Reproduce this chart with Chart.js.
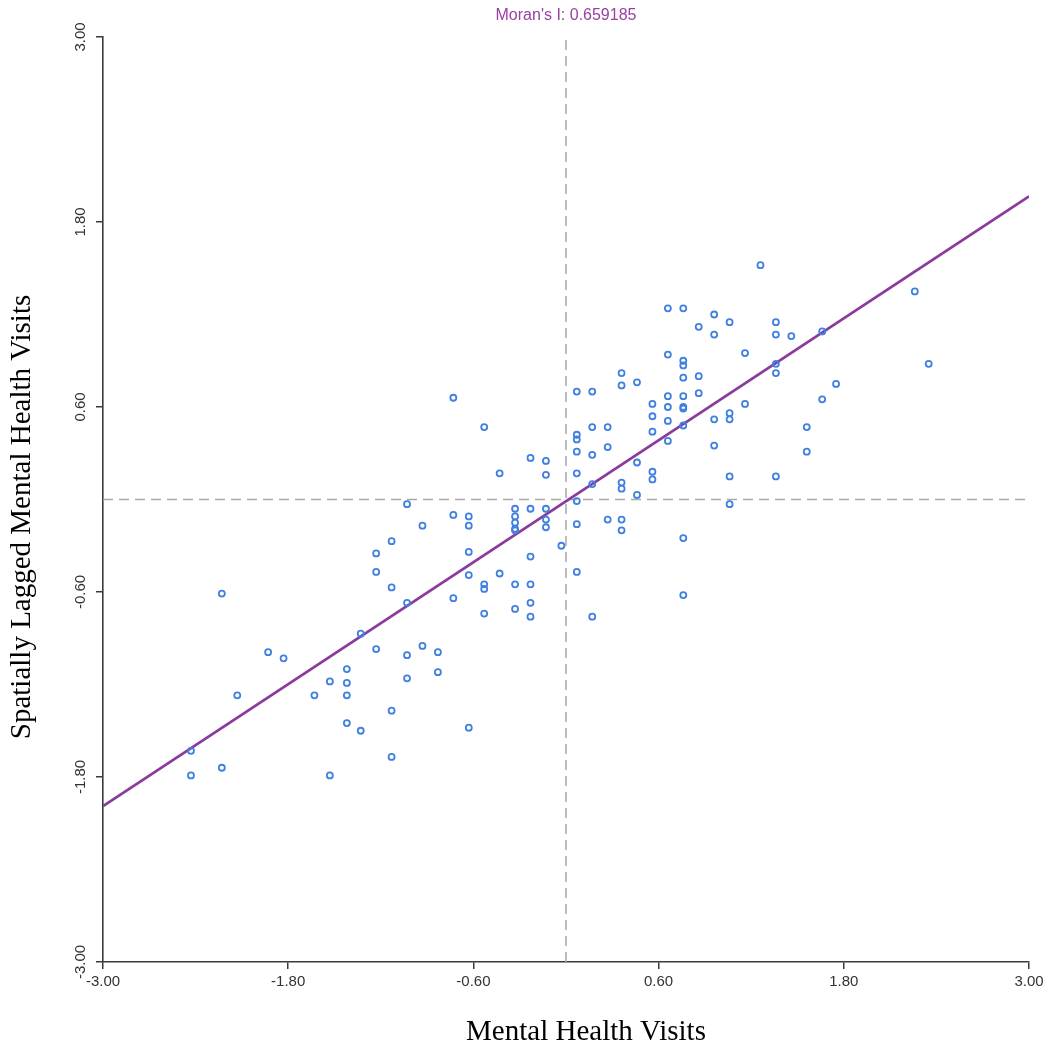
<!DOCTYPE html>
<html>
<head>
<meta charset="utf-8">
<title>Moran's I</title>
<script src="https://cdn.jsdelivr.net/npm/chart.js@4.4.1/dist/chart.umd.min.js"></script>
<style>
    html, body { margin: 0; padding: 0; background: #fff; }
    #grafico { display: block; }
</style>
</head>
<body>
<canvas id="grafico" width="1045" height="1047"></canvas>
<script>
'use strict';

// values (standardised)
const visits = [
    -2.43, -2.43, -2.23, -2.23, -2.13, -1.93, -1.83, -1.63, -1.53, -1.53,
    -1.42, -1.42, -1.42, -1.42, -1.33, -1.33, -1.23, -1.23, -1.23, -1.13,
    -1.13, -1.13, -1.13, -1.03, -1.03, -1.03, -1.03, -0.93, -0.93, -0.83,
    -0.83, -0.73, -0.73, -0.73, -0.63, -0.63, -0.63, -0.63, -0.63, -0.53,
    -0.53, -0.53, -0.53, -0.43, -0.43, -0.33, -0.33, -0.33, -0.33, -0.33,
    -0.33, -0.33, -0.23, -0.23, -0.23, -0.23, -0.23, -0.23, -0.13, -0.13,
    -0.13, -0.13, -0.13, -0.03,
    0.07, 0.07, 0.07, 0.07, 0.07, 0.07, 0.07, 0.07, 0.17, 0.17,
    0.17, 0.17, 0.17, 0.27, 0.27, 0.27, 0.36, 0.36, 0.36, 0.36,
    0.36, 0.36, 0.46, 0.46, 0.46, 0.56, 0.56, 0.56, 0.56, 0.56,
    0.66, 0.66, 0.66, 0.66, 0.66, 0.66, 0.76, 0.76, 0.76, 0.76,
    0.76, 0.76, 0.76, 0.76, 0.76, 0.76, 0.86, 0.86, 0.86, 0.96,
    0.96, 0.96, 0.96, 1.06, 1.06, 1.06, 1.06, 1.06, 1.16, 1.16,
    1.26, 1.36, 1.36, 1.36, 1.36, 1.36, 1.46, 1.56, 1.56, 1.66,
    1.66, 1.75, 2.26, 2.35
];

const laggedVisits = [
    -1.63, -1.79, -0.61, -1.74, -1.27, -0.99, -1.03, -1.27, -1.18, -1.79,
    -1.10, -1.19, -1.27, -1.45, -0.87, -1.50, -0.47, -0.97, -0.35, -0.57,
    -1.37, -1.67, -0.27, -0.67, -1.01, -1.16, -0.03, -0.95, -0.17, -0.99,
    -1.12, -0.64, 0.66, -0.10, -1.48, -0.11, -0.17, -0.34, -0.49, 0.47,
    -0.55, -0.58, -0.74, 0.17, -0.48, -0.06, -0.11, -0.15, -0.19, -0.20,
    -0.55, -0.71, 0.27, -0.06, -0.37, -0.55, -0.67, -0.76, 0.25, 0.16,
    -0.06, -0.13, -0.18, -0.30,
    0.70, 0.42, 0.39, 0.31, 0.17, -0.01, -0.16, -0.47, 0.70, 0.47,
    0.29, 0.10, -0.76, 0.47, 0.34, -0.13, 0.82, 0.74, 0.11, 0.07,
    -0.13, -0.20, 0.76, 0.24, 0.03, 0.62, 0.54, 0.44, 0.18, 0.13,
    1.24, 0.94, 0.67, 0.60, 0.51, 0.38, 1.24, 0.90, 0.87, 0.79,
    0.67, 0.60, 0.59, 0.48, -0.25, -0.62, 1.12, 0.80, 0.69, 1.20,
    1.07, 0.52, 0.35, 1.15, 0.56, 0.52, 0.15, -0.03, 0.95, 0.62,
    1.52, 1.15, 1.07, 0.88, 0.82, 0.15, 1.06, 0.47, 0.31, 1.09,
    0.65, 0.75, 1.35, 0.88
];

const axisTicks = [-3, -1.8, -0.6, 0.6, 1.8, 3];
const axisRange = [-3, 3];
const moranI = 0.659185;
const intercept = -0.011;

const titleText = "Moran's I: " + moranI.toFixed(6);
const xTitle = 'Mental Health Visits';
const yTitle = 'Spatially Lagged Mental Health Visits';

const purple = '#8a3b9c';
const dashGrey = '#a8a8a8';
const tickFont = '"Liberation Sans", Arial, sans-serif';
const titleFont = '"Liberation Serif", "Times New Roman", serif';

function fixTicks(scale)
{
    scale.ticks = axisTicks.map(v => ({ value: v }));
}

// rotated y tick labels and both axis titles (they sit off the plot centre) are drawn here
const extraText = {
    id: 'extraText',
    afterDraw(chart)
    {
        const ctx = chart.ctx;
        const sx = chart.scales.x;
        const sy = chart.scales.y;

        ctx.save();
        ctx.textAlign = 'center';
        ctx.textBaseline = 'middle';

        ctx.fillStyle = '#9a40a2';
        ctx.font = '16px ' + tickFont;
        ctx.fillText(titleText, sx.getPixelForValue(0), 16);

        ctx.fillStyle = '#333';
        ctx.font = '15px ' + tickFont;
        axisTicks.forEach(function(v){
            ctx.save();
            ctx.translate(sy.left + 81, sy.getPixelForValue(v));
            ctx.rotate(-Math.PI / 2);
            ctx.fillText(v.toFixed(2), 0, 0);
            ctx.restore();
        });

        ctx.fillStyle = '#000';
        ctx.font = '29px ' + titleFont;
        ctx.fillText(xTitle, 586, 1032);

        ctx.translate(22, 517);
        ctx.rotate(-Math.PI / 2);
        ctx.fillText(yTitle, 0, 0);
        ctx.restore();
    }
};

const points = visits.map((v, i) => ({ x: v, y: laggedVisits[i] }));
const fitLine = axisRange.map(v => ({ x: v, y: intercept + moranI * v }));

const ctx = document.getElementById('grafico');

const grafico = new Chart(ctx, {
    type: 'scatter',
    data: {
        datasets: [
            {
                label: 'visits',
                data: points,
                pointStyle: 'circle',
                pointRadius: 3,
                pointBorderWidth: 1.8,
                pointBorderColor: '#3f80e0',
                pointBackgroundColor: 'rgba(255,255,255,0)',
                order: 0
            },
            {
                label: 'fit',
                data: fitLine,
                showLine: true,
                borderColor: purple,
                borderWidth: 2.8,
                pointRadius: 0,
                order: 1
            },
            {
                label: 'x0',
                data: axisRange.map(v => ({ x: 0, y: v })),
                showLine: true,
                borderColor: dashGrey,
                borderWidth: 1.5,
                borderDash: [10, 6],
                pointRadius: 0,
                order: 2
            },
            {
                label: 'y0',
                data: axisRange.map(v => ({ x: v, y: 0 })),
                showLine: true,
                borderColor: dashGrey,
                borderWidth: 1.5,
                borderDash: [10, 6],
                pointRadius: 0,
                order: 2
            }
        ]
    },
    options: {
        responsive: false,
        animation: false,
        devicePixelRatio: 1,
        layout: {
            padding: { top: 37, right: 16, bottom: 0, left: 0 }
        },
        plugins: {
            legend: { display: false },
            tooltip: { enabled: false },
            title: { display: false }
        },
        scales: {
            x: {
                type: 'linear',
                min: axisRange[0],
                max: axisRange[1],
                afterBuildTicks: fixTicks,
                afterFit: function(s)
                {
                    s.height = 85;
                    s.paddingLeft = 0;
                    s.paddingRight = 0;
                },
                grid: {
                    drawOnChartArea: false,
                    drawTicks: true,
                    tickLength: 7,
                    color: '#3a3a3a',
                    lineWidth: 1.5
                },
                border: { display: true, color: '#3a3a3a', width: 1.6 },
                ticks: {
                    maxRotation: 0,
                    padding: 4,
                    color: '#333',
                    font: { family: tickFont, size: 15 },
                    callback: v => v.toFixed(2)
                },
                title: { display: false }
            },
            y: {
                type: 'linear',
                min: axisRange[0],
                max: axisRange[1],
                afterBuildTicks: fixTicks,
                afterFit: function(s)
                {
                    s.width = 103;
                    s.paddingTop = 0;
                    s.paddingBottom = 0;
                },
                grid: {
                    drawOnChartArea: false,
                    drawTicks: true,
                    tickLength: 7,
                    color: '#3a3a3a',
                    lineWidth: 1.5
                },
                border: { display: true, color: '#3a3a3a', width: 1.6 },
                ticks: { display: false }
            }
        }
    },
    plugins: [extraText]
});
</script>
</body>
</html>
